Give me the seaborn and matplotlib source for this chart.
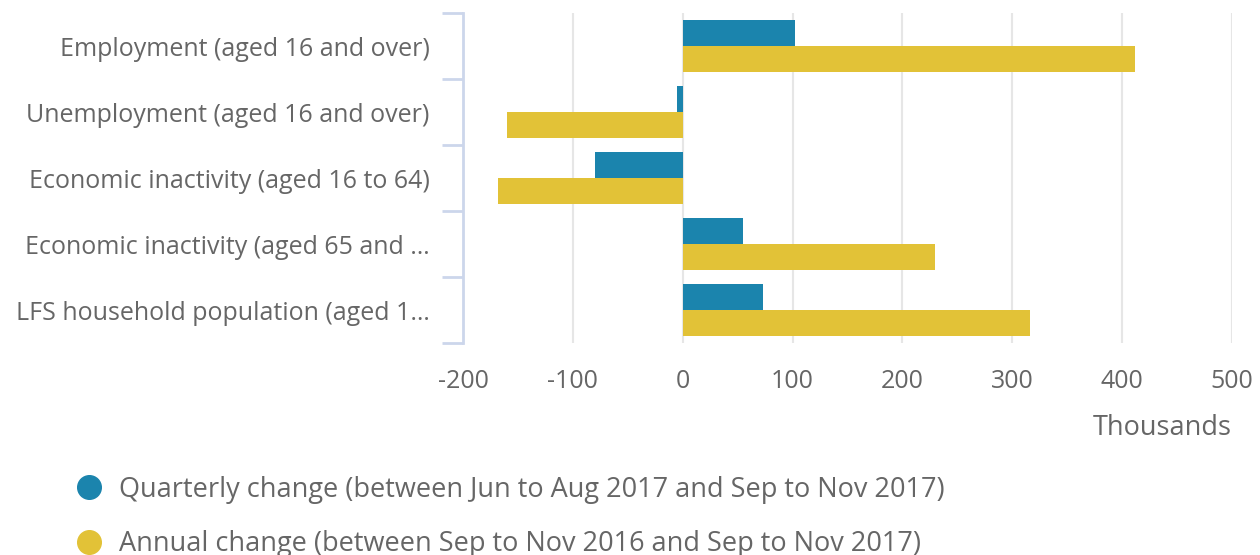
import numpy as np
import pandas as pd
import matplotlib
matplotlib.use("Agg")
import matplotlib.pyplot as plt
from matplotlib.lines import Line2D
import seaborn as sns

# Data (thousands)
categories = [
    "Employment (aged 16 and over)",
    "Unemployment (aged 16 and over)",
    "Economic inactivity (aged 16 to 64)",
    "Economic inactivity (aged 65 and …",
    "LFS household population (aged 1…",
]
quarterly = [102, -5, -80, 55, 73]
annual = [412, -160, -168, 230, 316]
series_names = [
    "Quarterly change (between Jun to Aug 2017 and Sep to Nov 2017)",
    "Annual change (between Sep to Nov 2016 and Sep to Nov 2017)",
]
colors = ["#1b84ad", "#e2c237"]
x_ticks = [-200, -100, 0, 100, 200, 300, 400, 500]

df = pd.DataFrame({
    "category": categories * 2,
    "value": quarterly + annual,
    "series": [series_names[0]] * len(categories) + [series_names[1]] * len(categories),
})

sns.set_style("white")
plt.rcParams["font.family"] = ["Open Sans", "DejaVu Sans"]
plt.rcParams["axes.unicode_minus"] = False

text_color = "#666666"
axis_color = "#ccd6eb"
fs = 18
fs_big = 19.5

fig = plt.figure(figsize=(12.6, 5.55), dpi=100)
ax = fig.add_axes([463 / 1260, 1 - 343 / 555, (1232 - 463) / 1260, (343 - 13) / 555])

sns.barplot(data=df, x="value", y="category", hue="series", orient="h",
            palette=colors, saturation=1, width=0.8, errorbar=None,
            legend=False, linewidth=0, ax=ax)

ax.set_xlim(-200, 500)
ax.set_xticks(x_ticks)
ax.set_ylim(4.5, -0.5)
ax.set_yticks(range(len(categories)))
ax.set_yticklabels(categories)
ax.set_yticks(np.arange(-0.5, len(categories), 1), minor=True)
ax.set_ylabel("")

ax.grid(axis="x", color="#e6e6e6", linewidth=1.5)
ax.set_axisbelow(True)
for side in ["top", "right", "bottom"]:
    ax.spines[side].set_visible(False)
ax.spines["left"].set_color(axis_color)
ax.spines["left"].set_linewidth(2)

ax.tick_params(axis="y", which="major", left=False, length=0, pad=24,
               labelsize=fs, labelcolor=text_color)
ax.tick_params(axis="y", which="minor", left=True, length=15, width=2, color=axis_color)
ax.tick_params(axis="x", which="major", length=0, pad=19, labelsize=fs, labelcolor=text_color)

ax.set_xlabel("Thousands", loc="right", fontsize=fs_big, color=text_color, labelpad=14)

handles = [Line2D([0], [0], marker="o", linestyle="none", markersize=17,
                  markerfacecolor=c, markeredgecolor=c) for c in colors]
fig.legend(handles, series_names, loc="upper left",
           bbox_to_anchor=(62 / 1260, 1 - 462 / 555), frameon=False,
           fontsize=fs_big, labelcolor=text_color, handlelength=1.0,
           handletextpad=0.6, labelspacing=0.98, borderpad=0)

fig.savefig("out.png", dpi=100)
